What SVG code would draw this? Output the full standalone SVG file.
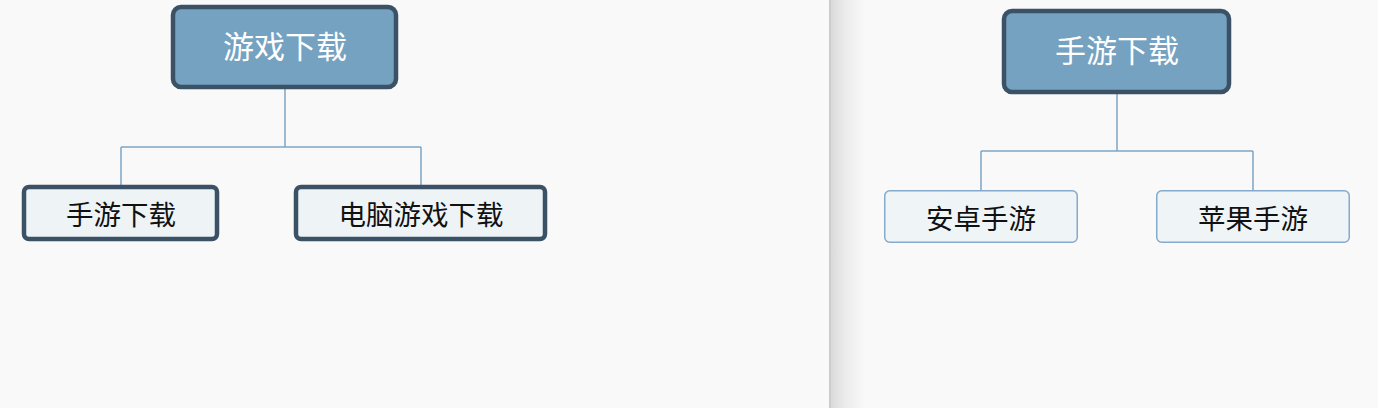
<svg xmlns="http://www.w3.org/2000/svg" width="1378" height="408" viewBox="0 0 1378 408">
  <defs>
    <linearGradient id="shade" x1="0" y1="0" x2="1" y2="0">
      <stop offset="0" stop-color="#dadada"/>
      <stop offset="0.4" stop-color="#ebebeb"/>
      <stop offset="1" stop-color="#f9f9fa"/>
    </linearGradient>
    <style>
      .root rect { fill: #76a2c1; stroke: #3b5266; stroke-width: 4.5; }
      .root text { fill: #ffffff; font-size: 31px; }
      .child rect { fill: #eef3f6; stroke: #3b5266; stroke-width: 4.5; }
      .leaf rect { fill: #eff4f7; stroke: #86aacb; stroke-width: 1.5; }
      .child text, .leaf text { fill: #111111; font-size: 27.5px; }
      text { font-family: "Liberation Sans", "Noto Sans CJK SC", sans-serif; text-anchor: middle; dominant-baseline: central; }
      .conn { fill: none; stroke: #7da7c6; stroke-width: 1.5; }
    </style>
  </defs>
  <rect x="0" y="0" width="1378" height="408" fill="#f9f9fa"/>
  <rect x="831" y="0" width="34" height="408" fill="url(#shade)"/>
  <line x1="830" y1="0" x2="830" y2="408" stroke="#bdbdbd" stroke-width="1.5"/>

  <g id="connectors">
    <path class="conn" d="M285 89 V147 M121 147 H421 M121 147 V186 M421 147 V186"/>
    <path class="conn" d="M1117 94 V151 M981 151 H1253 M981 151 V191 M1253 151 V191"/>
  </g>

  <g id="node-youxi" class="root">
    <rect x="173" y="7" width="223" height="80" rx="8"/>
    <text x="285" y="47.5">游戏下载</text>
  </g>
  <g id="node-shouyou-left" class="child">
    <rect x="24" y="187" width="193" height="52" rx="5"/>
    <text x="121" y="215">手游下载</text>
  </g>
  <g id="node-diannao" class="child">
    <rect x="296" y="187" width="249" height="52" rx="5"/>
    <text x="421" y="215">电脑游戏下载</text>
  </g>

  <g id="node-shouyou-right" class="root">
    <rect x="1004" y="11" width="225" height="81" rx="8"/>
    <text x="1117" y="51.5">手游下载</text>
  </g>
  <g id="node-anzhuo" class="leaf">
    <rect x="884.75" y="190.75" width="192.5" height="51.5" rx="5"/>
    <text x="981" y="219">安卓手游</text>
  </g>
  <g id="node-pingguo" class="leaf">
    <rect x="1156.75" y="190.75" width="192.5" height="51.5" rx="5"/>
    <text x="1253" y="219">苹果手游</text>
  </g>
</svg>
